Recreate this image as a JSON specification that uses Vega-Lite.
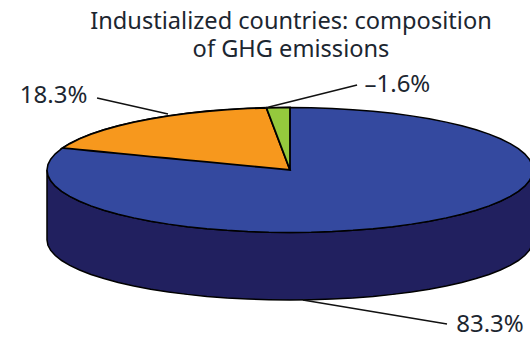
{
  "$schema": "https://vega.github.io/schema/vega-lite/v6.json",
  "width": 530,
  "height": 337,
  "padding": 0,
  "autosize": {"type": "none"},
  "background": "white",
  "view": {"stroke": null},
  "title": {
    "text": ["Industialized countries: composition", "of GHG emissions"],
    "font": "Noto Sans",
    "fontSize": 23.6,
    "fontWeight": "normal",
    "color": "#1c2630",
    "lineHeight": 28,
    "anchor": "middle",
    "dx": 26,
    "offset": -62
  },
  "datasets": {
    "disc": [
      {"x": -1, "top": 0, "lower": 0, "rim": -1.12},
      {"x": -0.9962, "top": 0.0872, "lower": -0.0872, "rim": -1.2037},
      {"x": -0.9848, "top": 0.1736, "lower": -0.1736, "rim": -1.2867},
      {"x": -0.9659, "top": 0.2588, "lower": -0.2588, "rim": -1.3684},
      {"x": -0.9397, "top": 0.342, "lower": -0.342, "rim": -1.4483},
      {"x": -0.9063, "top": 0.4226, "lower": -0.4226, "rim": -1.5257},
      {"x": -0.866, "top": 0.5, "lower": -0.5, "rim": -1.6},
      {"x": -0.8192, "top": 0.5736, "lower": -0.5736, "rim": -1.6707},
      {"x": -0.766, "top": 0.6428, "lower": -0.6428, "rim": -1.7371},
      {"x": -0.7071, "top": 0.7071, "lower": -0.7071, "rim": -1.7988},
      {"x": -0.6428, "top": 0.766, "lower": -0.766, "rim": -1.8554},
      {"x": -0.5736, "top": 0.8192, "lower": -0.8192, "rim": -1.9064},
      {"x": -0.5, "top": 0.866, "lower": -0.866, "rim": -1.9514},
      {"x": -0.4226, "top": 0.9063, "lower": -0.9063, "rim": -1.99},
      {"x": -0.342, "top": 0.9397, "lower": -0.9397, "rim": -2.0221},
      {"x": -0.2588, "top": 0.9659, "lower": -0.9659, "rim": -2.0473},
      {"x": -0.1736, "top": 0.9848, "lower": -0.9848, "rim": -2.0654},
      {"x": -0.0872, "top": 0.9962, "lower": -0.9962, "rim": -2.0764},
      {"x": 0, "top": 1, "lower": -1, "rim": -2.08},
      {"x": 0.0872, "top": 0.9962, "lower": -0.9962, "rim": -2.0764},
      {"x": 0.1736, "top": 0.9848, "lower": -0.9848, "rim": -2.0654},
      {"x": 0.2588, "top": 0.9659, "lower": -0.9659, "rim": -2.0473},
      {"x": 0.342, "top": 0.9397, "lower": -0.9397, "rim": -2.0221},
      {"x": 0.4226, "top": 0.9063, "lower": -0.9063, "rim": -1.99},
      {"x": 0.5, "top": 0.866, "lower": -0.866, "rim": -1.9514},
      {"x": 0.5736, "top": 0.8192, "lower": -0.8192, "rim": -1.9064},
      {"x": 0.6428, "top": 0.766, "lower": -0.766, "rim": -1.8554},
      {"x": 0.7071, "top": 0.7071, "lower": -0.7071, "rim": -1.7988},
      {"x": 0.766, "top": 0.6428, "lower": -0.6428, "rim": -1.7371},
      {"x": 0.8192, "top": 0.5736, "lower": -0.5736, "rim": -1.6707},
      {"x": 0.866, "top": 0.5, "lower": -0.5, "rim": -1.6},
      {"x": 0.9063, "top": 0.4226, "lower": -0.4226, "rim": -1.5257},
      {"x": 0.9397, "top": 0.342, "lower": -0.342, "rim": -1.4483},
      {"x": 0.9659, "top": 0.2588, "lower": -0.2588, "rim": -1.3684},
      {"x": 0.9848, "top": 0.1736, "lower": -0.1736, "rim": -1.2867},
      {"x": 0.9962, "top": 0.0872, "lower": -0.0872, "rim": -1.2037},
      {"x": 1, "top": 0, "lower": 0, "rim": -1.12}
    ],
    "share_18_3": [
      {"x": -0.9362, "top": 0.3516, "lower": 0.3516},
      {"x": -0.9063, "top": 0.4226, "lower": 0.3404},
      {"x": -0.866, "top": 0.5, "lower": 0.3252},
      {"x": -0.8192, "top": 0.5736, "lower": 0.3077},
      {"x": -0.766, "top": 0.6428, "lower": 0.2877},
      {"x": -0.7071, "top": 0.7071, "lower": 0.2656},
      {"x": -0.6428, "top": 0.766, "lower": 0.2414},
      {"x": -0.5736, "top": 0.8192, "lower": 0.2154},
      {"x": -0.5, "top": 0.866, "lower": 0.1878},
      {"x": -0.4226, "top": 0.9063, "lower": 0.1587},
      {"x": -0.342, "top": 0.9397, "lower": 0.1284},
      {"x": -0.2588, "top": 0.9659, "lower": 0.0972},
      {"x": -0.1736, "top": 0.9848, "lower": 0.0652},
      {"x": -0.0972, "top": 0.9953, "lower": 0.0365},
      {"x": 0, "top": 0, "lower": 0}
    ],
    "share_1_6": [
      {"x": -0.0972, "top": 0.9953, "lower": 0.9953},
      {"x": -0.0436, "top": 0.999, "lower": 0.4464},
      {"x": 0, "top": 1, "lower": 0}
    ],
    "leaders": [
      {"x": -0.794, "y": 1.152, "x2": -0.502, "y2": 0.896},
      {"x": -0.103, "y": 0.992, "x2": 0.276, "y2": 1.36},
      {"x": 0.053, "y": -2.08, "x2": 0.646, "y2": -2.464}
    ],
    "labels": [
      {"x": -0.973, "y": 1.184, "label": "18.3%"},
      {"x": 0.442, "y": 1.36, "label": "–1.6%"},
      {"x": 0.823, "y": -2.48, "label": "83.3%"}
    ]
  },
  "layer": [
    {
      "data": {"name": "disc"},
      "mark": {"type": "area", "fill": "#21205f", "stroke": "#000000", "strokeWidth": 1.5, "clip": true},
      "encoding": {
        "x": {"field": "x", "type": "quantitative", "axis": null, "scale": {"domain": [-1.19342, 0.98765], "nice": false, "zero": false}},
        "y": {"field": "lower", "type": "quantitative", "axis": null, "stack": null, "scale": {"domain": [-2.672, 2.72], "nice": false, "zero": false}},
        "y2": {"field": "rim"}
      }
    },
    {
      "data": {"name": "disc"},
      "mark": {"type": "area", "fill": "#34499f", "stroke": "#000000", "strokeWidth": 1.5, "clip": true},
      "encoding": {
        "x": {"field": "x", "type": "quantitative", "axis": null, "scale": {"domain": [-1.19342, 0.98765], "nice": false, "zero": false}},
        "y": {"field": "top", "type": "quantitative", "axis": null, "stack": null, "scale": {"domain": [-2.672, 2.72], "nice": false, "zero": false}},
        "y2": {"field": "lower"}
      }
    },
    {
      "data": {"name": "share_18_3"},
      "mark": {"type": "area", "fill": "#f7981d", "stroke": "#000000", "strokeWidth": 1.8},
      "encoding": {
        "x": {"field": "x", "type": "quantitative", "axis": null, "scale": {"domain": [-1.19342, 0.98765], "nice": false, "zero": false}},
        "y": {"field": "top", "type": "quantitative", "axis": null, "stack": null, "scale": {"domain": [-2.672, 2.72], "nice": false, "zero": false}},
        "y2": {"field": "lower"}
      }
    },
    {
      "data": {"name": "share_1_6"},
      "mark": {"type": "area", "fill": "#95c93d", "stroke": "#000000", "strokeWidth": 1.8},
      "encoding": {
        "x": {"field": "x", "type": "quantitative", "axis": null, "scale": {"domain": [-1.19342, 0.98765], "nice": false, "zero": false}},
        "y": {"field": "top", "type": "quantitative", "axis": null, "stack": null, "scale": {"domain": [-2.672, 2.72], "nice": false, "zero": false}},
        "y2": {"field": "lower"}
      }
    },
    {
      "data": {"name": "leaders"},
      "mark": {"type": "rule", "stroke": "#111111", "strokeWidth": 1.4},
      "encoding": {
        "x": {"field": "x", "type": "quantitative", "axis": null, "scale": {"domain": [-1.19342, 0.98765], "nice": false, "zero": false}},
        "y": {"field": "y", "type": "quantitative", "axis": null, "scale": {"domain": [-2.672, 2.72], "nice": false, "zero": false}},
        "x2": {"field": "x2"},
        "y2": {"field": "y2"}
      }
    },
    {
      "data": {"name": "labels"},
      "mark": {"type": "text", "font": "Noto Sans", "fontSize": 24, "color": "#1c2630", "align": "center", "baseline": "middle"},
      "encoding": {
        "x": {"field": "x", "type": "quantitative", "axis": null, "scale": {"domain": [-1.19342, 0.98765], "nice": false, "zero": false}},
        "y": {"field": "y", "type": "quantitative", "axis": null, "scale": {"domain": [-2.672, 2.72], "nice": false, "zero": false}},
        "text": {"field": "label"}
      }
    }
  ]
}
